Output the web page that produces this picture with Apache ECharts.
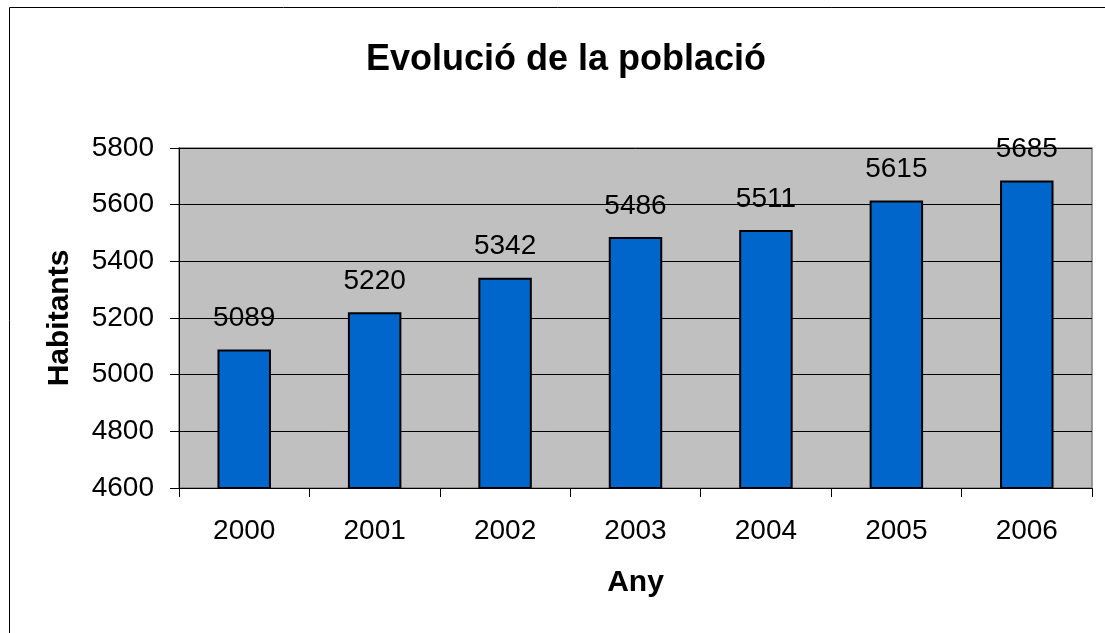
<!DOCTYPE html>
<html>
<head>
<meta charset="utf-8">
<script src="https://cdn.jsdelivr.net/npm/echarts@6/dist/echarts.min.js"></script>
<style>
  html, body { margin: 0; padding: 0; background: #fff; }
  #chart { width: 1105px; height: 633px; }
</style>
</head>
<body>
<div id="chart"></div>
<script>
// dades del gràfic
const years = ['2000', '2001', '2002', '2003', '2004', '2005', '2006']
const habitants = [5089, 5220, 5342, 5486, 5511, 5615, 5685]
const yTicks = [4600, 4800, 5000, 5200, 5400, 5600, 5800]

const font = '"Liberation Sans", Arial, sans-serif'

const chart = echarts.init(document.getElementById('chart'), null, { renderer: 'canvas' })

chart.setOption({
  animation: false,
  backgroundColor: '#fff',
  textStyle: { fontFamily: font },
  title: {
    text: 'Evolució de la població',
    left: 361,
    top: 37,
    textStyle: { fontSize: 36, fontWeight: 'bold', color: '#000', fontFamily: font },
  },
  graphic: [
    {
      type: 'rect',
      shape: { x: 9.5, y: 7.5, width: 1200, height: 700 },
      style: { fill: 'none', stroke: '#000', lineWidth: 1 },
      silent: true,
    },
  ],
  grid: {
    left: 179,
    right: 13,
    top: 148,
    bottom: 145,
    show: true,
    backgroundColor: '#C0C0C0',
    borderColor: '#808080',
    borderWidth: 1.5,
  },
  xAxis: {
    type: 'category',
    data: years,
    name: 'Any',
    nameLocation: 'middle',
    nameGap: 80,
    nameTextStyle: { fontSize: 30, fontWeight: 'bold', color: '#000', fontFamily: font },
    axisLine: { lineStyle: { color: '#000', width: 1 } },
    axisTick: { show: true, alignWithLabel: false, length: 9, lineStyle: { color: '#000' } },
    axisLabel: { fontSize: 28, color: '#000', margin: 29, fontFamily: font },
  },
  yAxis: {
    type: 'value',
    min: yTicks[0],
    max: yTicks[yTicks.length - 1],
    interval: 200,
    name: 'Habitants',
    nameLocation: 'middle',
    nameGap: 104,
    nameRotate: 90,
    nameTextStyle: { fontSize: 30, fontWeight: 'bold', color: '#000', fontFamily: font },
    axisLine: { show: true, lineStyle: { color: '#000', width: 1 } },
    axisTick: { show: true, length: 9, lineStyle: { color: '#000' } },
    axisLabel: {
      fontSize: 28,
      color: '#000',
      margin: 25,
      fontFamily: font,
      formatter: (v) => String(v),
    },
    splitLine: { show: true, lineStyle: { color: '#000', width: 1 } },
  },
  series: [
    {
      type: 'bar',
      data: habitants,
      barCategoryGap: '59%',
      itemStyle: { color: '#0066CC', borderColor: '#000', borderWidth: 2 },
      label: {
        show: true,
        position: 'top',
        distance: 17,
        fontSize: 28,
        color: '#000',
        fontFamily: font,
      },
    },
  ],
})
</script>
</body>
</html>
